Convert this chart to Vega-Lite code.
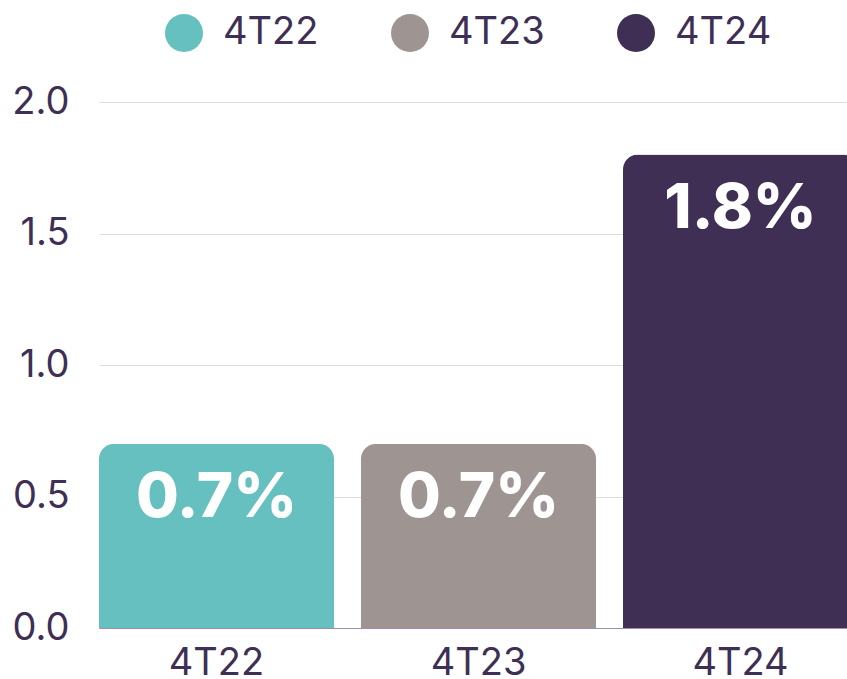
{
  "$schema": "https://vega.github.io/schema/vega-lite/v6.json",
  "width": 759,
  "height": 526,
  "autosize": {"type": "none"},
  "padding": {"left": 99, "top": 102, "right": -11, "bottom": 51},
  "background": "white",
  "config": {
    "view": {"stroke": null},
    "font": "Inter"
  },
  "data": {
    "values": [
      {"periodo": "4T22", "valor": 0.7, "etiqueta": "0.7%"},
      {"periodo": "4T23", "valor": 0.7, "etiqueta": "0.7%"},
      {"periodo": "4T24", "valor": 1.8, "etiqueta": "1.8%"}
    ]
  },
  "encoding": {
    "x": {
      "field": "periodo",
      "type": "nominal",
      "sort": null,
      "scale": {"paddingInner": 0.103, "paddingOuter": 0},
      "axis": {
        "title": null,
        "labelAngle": 0,
        "labelFontSize": 38,
        "labelColor": "#3E2F55",
        "labelPadding": 16,
        "ticks": false,
        "domain": true,
        "domainColor": "#9A90AE",
        "domainWidth": 1,
        "grid": false
      }
    },
    "y": {
      "field": "valor",
      "type": "quantitative",
      "scale": {"domain": [0, 2]},
      "axis": {
        "title": null,
        "values": [0, 0.5, 1, 1.5, 2],
        "format": ".1f",
        "labelFontSize": 38,
        "labelColor": "#3E2F55",
        "labelPadding": 30,
        "ticks": false,
        "domain": false,
        "gridColor": "#DDDDDD",
        "gridWidth": 1
      }
    }
  },
  "layer": [
    {
      "mark": {"type": "bar", "cornerRadiusTopLeft": 15, "cornerRadiusTopRight": 15},
      "encoding": {
        "color": {
          "field": "periodo",
          "type": "nominal",
          "sort": null,
          "scale": {"domain": ["4T22", "4T23", "4T24"], "range": ["#66C0BF", "#9E9593", "#3F2F55"]},
          "legend": {
            "title": null,
            "orient": "none",
            "legendX": 66,
            "legendY": -88,
            "direction": "horizontal",
            "symbolType": "circle",
            "symbolSize": 1444,
            "symbolStrokeWidth": 0,
            "symbolOpacity": 1,
            "labelFontSize": 38,
            "labelColor": "#3E2F55",
            "labelOffset": 20,
            "columnPadding": 72,
            "padding": 0
          }
        }
      }
    },
    {
      "mark": {"type": "text", "baseline": "middle", "align": "center", "dy": 54, "fontSize": 62, "fontWeight": 800, "color": "white"},
      "encoding": {
        "text": {"field": "etiqueta"}
      }
    }
  ]
}
